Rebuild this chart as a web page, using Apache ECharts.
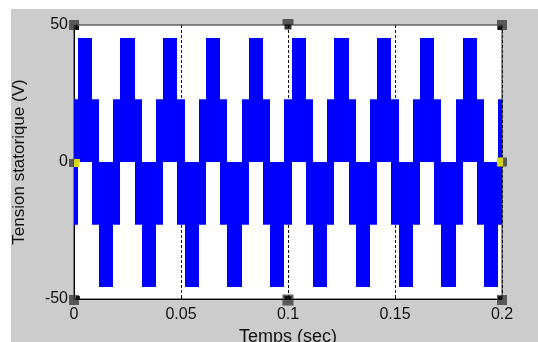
<!DOCTYPE html>
<html>
<head>
<meta charset="utf-8">
<script src="https://cdn.jsdelivr.net/npm/echarts@6/dist/echarts.min.js"></script>
<style>
html,body{margin:0;padding:0;background:#fff;}
#fond{position:absolute;left:11px;top:9px;width:527px;height:333px;background:#cccccc;}
#main{position:absolute;left:0;top:0;width:538px;height:342px;}
</style>
</head>
<body>
<div id="fond"></div>
<div id="main"></div>
<script>
/*------------données--------------------------------*/
// instants de commutation (s)
var switchTimes=[0,
	0.00167,0.00833,0.01167,0.01833,
	0.02167,0.02833,0.03167,0.03833,
	0.04167,0.04833,0.05167,0.05833,
	0.06167,0.06833,0.07167,0.07833,
	0.08167,0.08833,0.09167,0.09833,
	0.10167,0.10833,0.11167,0.11833,
	0.12167,0.12833,0.13167,0.13833,
	0.14167,0.14833,0.15167,0.15833,
	0.16167,0.16833,0.17167,0.17833,
	0.18167,0.18833,0.19167,0.19833,
	0.2];
// état de chaque intervalle : A = entre -V/3 et +V/3, P = entre 0 et +2V/3, N = entre -2V/3 et 0
var segStates=['A',
	'P','A','N','A', 'P','A','N','A', 'P','A','N','A', 'P','A','N','A', 'P','A','N','A',
	'P','A','N','A', 'P','A','N','A', 'P','A','N','A', 'P','A','N','A', 'P','A','N','A'];
var stateLow={A:-22.9,P:0,N:-45.6};
var stateHigh={A:22.9,P:45.3,N:0};
var xTicks=['0','0.05','0.1','0.15','0.2'];
var yTicks=['-50','0','50'];

var segData=[];
for(var i=0;i<segStates.length;i++){
	var s=segStates[i];
	segData.push([switchTimes[i],switchTimes[i+1],stateLow[s],stateHigh[s]]);
}

// poignées de sélection (figure en mode édition)
var dark='#3b3b3b';
var handles=[
	{value:[0,50],symbolSize:10},
	{value:[0.1,50],symbolSize:[11,6],symbolOffset:[0,-3]},
	{value:[0.2,50],symbolSize:10},
	{value:[0,-50],symbolSize:10,symbolOffset:[0,1]},
	{value:[0.1,-50],symbolSize:[11,11],symbolOffset:[0,1]},
	{value:[0.2,-50],symbolSize:10,symbolOffset:[0,1]},
	{value:[0,0],symbolSize:[10,8],symbolOffset:[0,1]},
	{value:[0.2,0],symbolSize:[10,9],symbolOffset:[0,0]}
];
var inner=[
	{value:[0,50],symbolSize:4,symbolOffset:[3,3],itemStyle:{color:'#000'}},
	{value:[0.1,50],symbolSize:[7,5],symbolOffset:[0,2],itemStyle:{color:'#000'}},
	{value:[0.2,50],symbolSize:4,symbolOffset:[-2,3],itemStyle:{color:'#000'}},
	{value:[0,-50],symbolSize:4,symbolOffset:[4,-1],itemStyle:{color:'#000'}},
	{value:[0.1,-50],symbolSize:[7,4],symbolOffset:[0,-1],itemStyle:{color:'#000'}},
	{value:[0.2,-50],symbolSize:4,symbolOffset:[-2,-1],itemStyle:{color:'#000'}},
	{value:[0,0],symbolSize:[6,8],symbolOffset:[3,1],itemStyle:{color:'#ffff00'}},
	{value:[0.2,0],symbolSize:[6,9],symbolOffset:[-2,0],itemStyle:{color:'#ffff00'}}
];

var police='Liberation Sans';
var chart=echarts.init(document.getElementById('main'));
var option={
	animation:false,
	backgroundColor:'transparent',
	grid:{
		left:74,right:36,top:25,bottom:43,
		outerBoundsMode:'none',
		containLabel:false,
		show:true,
		backgroundColor:'#fff',
		borderColor:'#222',
		borderWidth:1
	},
	xAxis:{
		type:'value',
		min:0,max:0.2,interval:0.05,
		name:'Temps (sec)',
		nameLocation:'middle',
		nameGap:28,
		nameTextStyle:{fontFamily:police,fontSize:18,color:'#111'},
		axisLine:{onZero:false,lineStyle:{color:'#000'}},
		axisTick:{inside:true,length:4,lineStyle:{color:'#000'}},
		axisLabel:{
			margin:8,fontFamily:police,fontSize:16,color:'#111',
			formatter:function(v,idx){return xTicks[idx];}
		},
		splitLine:{show:true,lineStyle:{color:'#111',type:[3,2],width:1}}
	},
	yAxis:{
		type:'value',
		min:-50,max:50,interval:50,
		name:'Tension statorique (V)',
		nameLocation:'middle',
		nameGap:46,
		nameTextStyle:{fontFamily:police,fontSize:17,color:'#111'},
		axisLine:{onZero:false,lineStyle:{color:'#000'}},
		axisTick:{inside:true,length:4,lineStyle:{color:'#000'}},
		axisLabel:{
			margin:6,fontFamily:police,fontSize:16,color:'#111',
			formatter:function(v,idx){return yTicks[idx];}
		},
		splitLine:{show:false}
	},
	series:[{
		name:'Tension',
		type:'custom',
		clip:true,
		encode:{x:[0,1],y:[2,3]},
		renderItem:function(params,api){
			var p0=api.coord([api.value(0),api.value(3)]);
			var p1=api.coord([api.value(1),api.value(2)]);
			var x0=Math.round(p0[0]),x1=Math.round(p1[0]);
			return {
				type:'rect',
				shape:{x:x0,y:p0[1],width:x1-x0,height:p1[1]-p0[1]},
				style:{fill:'#0000ff'}
			};
		},
		data:segData,
		z:2
	},{
		type:'scatter',
		symbol:'rect',
		clip:false,
		itemStyle:{color:dark},
		data:handles,
		z:5
	},{
		type:'scatter',
		symbol:'rect',
		clip:false,
		data:inner,
		z:6
	}]
};
chart.setOption(option);
</script>
</body>
</html>
